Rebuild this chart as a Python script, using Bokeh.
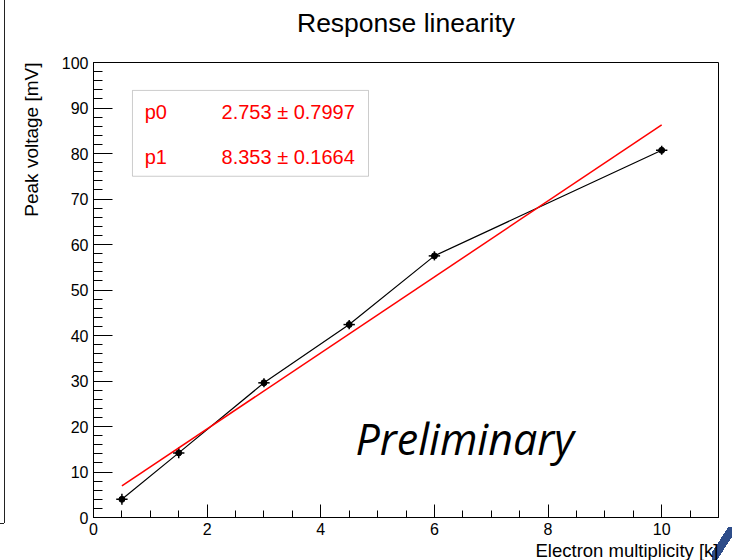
from bokeh.plotting import figure
from bokeh.models import FixedTicker, Label, BoxAnnotation, Title
from bokeh.embed import file_html
from bokeh.resources import INLINE

# Measured response vs electron multiplicity
multiplicity = [0.5, 1.5, 3.0, 4.5, 6.0, 10.0]
peak_voltage = [4.0, 14.2, 29.6, 42.4, 57.5, 80.7]
x_err = [0.1, 0.1, 0.1, 0.1, 0.1, 0.1]
y_err = [1.2, 1.2, 1.0, 1.0, 1.0, 1.0]

# Linear fit parameters  y = p0 + p1 * x
fit_names = ["p0", "p1"]
fit_values = [2.753, 8.353]
fit_errors = [0.7997, 0.1664]

x_ticks = [0, 2, 4, 6, 8, 10]
y_ticks = [0, 10, 20, 30, 40, 50, 60, 70, 80, 90, 100]

FONT = "Liberation Sans"

p = figure(width=732, height=560, x_range=(0, 11), y_range=(0, 100),
           output_backend="svg", toolbar_location=None,
           min_border_left=93, min_border_right=14,
           min_border_top=62, min_border_bottom=42)
p.title = None
p.background_fill_color = "white"
p.border_fill_color = None
p.outline_line_color = "black"
p.outline_line_width = 1
p.xgrid.visible = False
p.ygrid.visible = False

# neighbouring pad edge and the corner stroke, painted behind the canvas
p.styles = {
    "background-color": "white",
    "background-image": ("linear-gradient(#222, #222), linear-gradient(#222, #222), "
                         "linear-gradient(to bottom right, transparent 37%, #2e4d8a 37%, "
                         "#2e4d8a 60%, transparent 60%)"),
    "background-size": "1px 523px, 4px 1px, 22px 34px",
    "background-position": "4px 0px, 0px 523px, 712px 527px",
    "background-repeat": "no-repeat",
}

# gap panel next to the frame, then the title above it
p.add_layout(Title(text=" ", text_font_size="1px", standoff=22), "above")
p.add_layout(Title(text="Response linearity", align="center", text_font=FONT,
                   text_font_size="26.5px", text_font_style="normal",
                   text_color="black", standoff=0), "above")

p.xaxis.ticker = FixedTicker(ticks=x_ticks,
                             minor_ticks=[i * 0.5 for i in range(0, 23)])
p.yaxis.ticker = FixedTicker(ticks=y_ticks,
                             minor_ticks=[i * 2 for i in range(0, 51)])
for ax in (p.xaxis, p.yaxis):
    ax.axis_line_color = "black"
    ax.major_tick_line_color = "black"
    ax.minor_tick_line_color = "black"
    ax.major_tick_out = 0
    ax.minor_tick_out = 0
    ax.major_label_text_font = FONT
    ax.major_label_text_font_size = "16px"
    ax.major_label_text_color = "black"
    ax.major_label_standoff = 5
p.xaxis.major_tick_in = 13
p.xaxis.minor_tick_in = 7
p.yaxis.major_tick_in = 19
p.yaxis.minor_tick_in = 9

# axis titles, aligned to the far end of each axis
p.add_layout(Title(text="Peak voltage [mV]", align="right", text_font=FONT,
                   text_font_size="19px", text_font_style="normal",
                   text_color="black", standoff=34), "left")
p.add_layout(Title(text="Electron multiplicity [k]", align="right", text_font=FONT,
                   text_font_size="18.5px", text_font_style="normal",
                   text_color="black", standoff=0), "below")

# data with error bars
x = multiplicity
y = peak_voltage
p.line(x, y, line_color="black", line_width=1.2)
p.segment(x0=[a - e for a, e in zip(x, x_err)], y0=y,
          x1=[a + e for a, e in zip(x, x_err)], y1=y,
          line_color="black", line_width=1.5)
p.segment(x0=x, y0=[b - e for b, e in zip(y, y_err)],
          x1=x, y1=[b + e for b, e in zip(y, y_err)],
          line_color="black", line_width=1.5)
p.scatter(x, y, size=6, marker="circle", fill_color="black", line_color="black")

# fitted line over the data span
fx = [min(x), max(x)]
fy = [fit_values[0] + fit_values[1] * v for v in fx]
p.line(fx, fy, line_color="#ff0000", line_width=1.5)

# fit result box
p.add_layout(BoxAnnotation(left=0.686, right=4.84, bottom=75.0, top=93.86,
                           fill_color="white", fill_alpha=1.0,
                           line_color="#555555", line_width=1))
for i, (name, val, err) in enumerate(zip(fit_names, fit_values, fit_errors)):
    yy = 89.2 - i * 9.9
    p.add_layout(Label(x=0.9, y=yy, text=name, text_color="#ff0000",
                       text_font=FONT, text_font_size="20px",
                       text_baseline="middle"))
    p.add_layout(Label(x=4.6, y=yy, text=f"{val} \u00b1 {err}",
                       text_color="#ff0000", text_align="right",
                       text_font=FONT, text_font_size="20px",
                       text_baseline="middle"))

p.add_layout(Label(x=4.61, y=17.3, text="Preliminary",
                   text_font="Open Sans", text_font_style="italic",
                   text_font_size="43px", text_color="black",
                   text_baseline="alphabetic"))

open("out.html", "w").write(file_html(p, INLINE))
